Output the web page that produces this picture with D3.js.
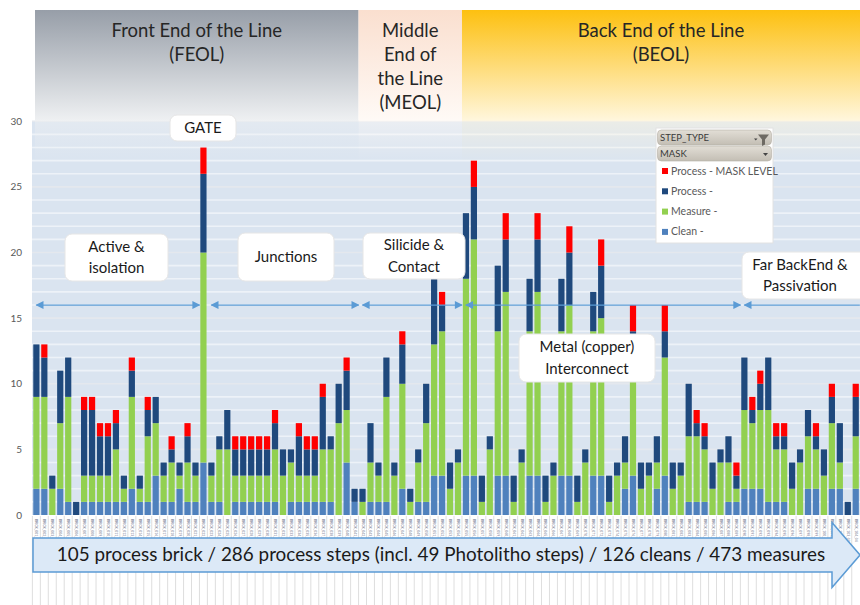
<!DOCTYPE html>
<html>
<head>
<meta charset="utf-8">
<script src="https://cdn.jsdelivr.net/npm/d3@7"></script>
<style>
  body { margin: 0; background: #fff; }
  svg { display: block; font-family: Lato, "Open Sans", sans-serif; }
</style>
</head>
<body>
<div id="chart"></div>
<script>
// steps per process brick (bottom to top of each stack)
const clean   = [2,2,0,2,1,0,1,1,1,1,1,1,2,1,1,3,1,1,2,1,1,4,1,1,0,1,1,1,1,1,1,0,1,1,1,1,1,1,0,4,1,0,1,1,1,0,2,0,1,1,3,3,0,0,3,3,0,0,3,3,0,0,3,3,0,0,3,3,0,0,3,3,0,0,2,3,0,0,2,3,0,0,1,1,1,0,0,1,1,2,2,2,1,1,1,0,0,2,2,0,2,2,0,2];
const measure = [7,7,2,5,8,0,2,2,2,2,4,1,7,1,5,4,2,3,1,3,2,16,2,4,5,2,2,2,2,2,4,3,3,2,2,2,4,4,7,4,0,1,3,2,8,3,8,1,3,6,10,11,2,4,15,18,1,5,11,14,1,4,11,14,1,3,11,13,1,4,11,12,1,3,2,10,2,3,2,9,2,3,5,5,4,2,4,3,1,6,5,6,7,4,4,2,4,4,3,3,5,2,0,4];
const process = [4,3,1,4,3,1,5,5,3,3,2,1,2,1,2,2,1,1,1,2,1,6,1,1,3,2,2,2,2,2,2,2,1,3,2,2,4,1,3,3,1,1,3,1,3,1,3,1,1,3,5,2,2,1,5,4,2,1,5,4,2,1,4,4,2,1,4,4,2,1,3,4,2,1,2,1,2,1,2,2,2,1,4,1,1,2,1,2,1,4,1,2,4,1,1,2,1,2,1,2,2,3,1,3];
const mask    = [0,1,0,0,0,0,1,1,1,1,1,0,1,0,1,0,0,1,0,1,0,2,0,0,0,1,1,1,1,1,1,0,0,1,1,1,1,0,0,1,0,0,0,0,0,0,1,0,0,0,0,1,0,0,0,2,0,0,0,2,0,0,0,2,0,0,0,2,0,0,0,2,0,0,0,2,0,0,0,2,0,0,0,1,1,0,0,0,1,0,1,1,0,1,1,0,0,0,1,0,1,0,0,1];
const bricks  = clean.map((d, i) => 'BRICK_' + String(i + 1).padStart(3, '0'));
const yTicks  = [0, 5, 10, 15, 20, 25, 30];

const seriesKeys   = ['clean', 'measure', 'process', 'mask'];
const seriesLabels = ['Clean -', 'Measure -', 'Process -', 'Process - MASK LEVEL'];
const seriesColors = ['#4f81bd', '#92d050', '#1f497d', '#ff0000'];

// brick groups (1-based, inclusive)
const lineParts = [
  {lines: ['Front End of the Line', '(FEOL)'], first: 1, last: 41, top: '#979ea8', low: '#eef0f2'},
  {lines: ['Middle', 'End of', 'the Line', '(MEOL)'], first: 42, last: 54, top: '#fadfcf', low: '#fffaf6'},
  {lines: ['Back End of the Line', '(BEOL)'], first: 55, last: 104, top: '#fdc010', low: '#fff6dc'}
];
const sections = [
  {first: 1, last: 21}, {first: 23, last: 41}, {first: 42, last: 54},
  {first: 55, last: 89}, {first: 90, last: 104}
];
const summary = '105 process brick / 286 process steps (incl. 49 Photolitho steps) / 126 cleans / 473 measures';

const width = 860, height = 605;
const plot = {left: 32, right: 860, top: 121, bottom: 515};

const table = bricks.map((b, i) => ({brick: b, clean: clean[i], measure: measure[i], process: process[i], mask: mask[i]}));
const stacked = d3.stack().keys(seriesKeys)(table);

const x = d3.scaleBand().domain(bricks)
  .range([32.4, 32.4 + bricks.length * 7.955])
  .paddingInner(0.22).paddingOuter(0.11);
const y = d3.scaleLinear().domain([0, 30]).range([plot.bottom, plot.top + 0.3]);
const color = d3.scaleOrdinal().domain(seriesKeys).range(seriesColors);

const svg = d3.select('#chart').append('svg')
  .attr('width', width).attr('height', height);
const defs = svg.append('defs');

// plot background + unit grid
svg.append('rect')
  .attr('x', plot.left).attr('y', plot.top)
  .attr('width', plot.right - plot.left).attr('height', plot.bottom - plot.top)
  .attr('fill', '#dae4f0');
svg.append('g')
  .selectAll('line')
  .data(d3.range(1, 31))
  .join('line')
    .attr('x1', plot.left).attr('x2', plot.right)
    .attr('y1', d => y(d)).attr('y2', d => y(d))
    .attr('stroke', d => d % 5 === 0 ? '#e4e8ee' : '#edf2f8')
    .attr('stroke-width', 1.6);

// header bands fading into the plot
const bandLeft = i => i === 1 ? 35 : x(bricks[i - 1]) - (x.step() - x.bandwidth()) / 2;
const bandRight = i => i === bricks.length ? width : bandLeft(i + 1);
lineParts.forEach((p, k) => {
  const g = defs.append('linearGradient').attr('id', 'hdr' + k)
    .attr('x1', 0).attr('x2', 0).attr('y1', 0).attr('y2', 1);
  g.append('stop').attr('offset', 0).attr('stop-color', p.top);
  g.append('stop').attr('offset', 0.72).attr('stop-color', p.low);
  g.append('stop').attr('offset', 0.73).attr('stop-color', p.low).attr('stop-opacity', 0.45);
  g.append('stop').attr('offset', 1).attr('stop-color', p.low).attr('stop-opacity', 0);
});
const header = svg.append('g');
header.selectAll('rect')
  .data(lineParts)
  .join('rect')
    .attr('x', d => bandLeft(d.first))
    .attr('width', d => bandRight(d.last) - bandLeft(d.first))
    .attr('y', 10).attr('height', 153)
    .attr('fill', (d, k) => `url(#hdr${k})`);
header.selectAll('text')
  .data(lineParts)
  .join('text')
    .attr('x', d => (bandLeft(d.first) + bandRight(d.last)) / 2)
    .attr('y', 37)
    .attr('text-anchor', 'middle')
    .attr('font-size', 18.5)
    .attr('fill', '#262626')
    .selectAll('tspan')
    .data(d => d.lines)
    .join('tspan')
      .attr('x', function() { return this.parentNode.getAttribute('x'); })
      .attr('dy', (d, i) => i ? 24 : 0)
      .text(d => d);

// y axis labels
svg.append('g')
  .selectAll('text')
  .data(yTicks)
  .join('text')
    .attr('x', 22).attr('y', d => y(d))
    .attr('dy', '0.35em')
    .attr('text-anchor', 'end')
    .attr('font-size', 10)
    .attr('fill', '#595959')
    .text(d => d);

// stacked bars
svg.append('g')
  .selectAll('g')
  .data(stacked)
  .join('g')
    .attr('fill', d => color(d.key))
  .selectAll('rect')
  .data(d => d.filter(s => s[1] > s[0]))
  .join('rect')
    .attr('x', d => x(d.data.brick))
    .attr('width', x.bandwidth())
    .attr('y', d => y(d[1]))
    .attr('height', d => y(d[0]) - y(d[1]));

// category label strip
const strip = svg.append('g');
strip.append('rect')
  .attr('x', plot.left).attr('y', plot.bottom + 1)
  .attr('width', plot.right - plot.left).attr('height', height - plot.bottom)
  .attr('fill', '#fff');
strip.selectAll('line')
  .data(bricks)
  .join('line')
    .attr('x1', d => x(d) - (x.step() - x.bandwidth()) / 2)
    .attr('x2', d => x(d) - (x.step() - x.bandwidth()) / 2)
    .attr('y1', plot.bottom + 1).attr('y2', height)
    .attr('stroke', '#d6d6d6').attr('stroke-width', 0.8);
strip.selectAll('text')
  .data(bricks)
  .join('text')
    .attr('transform', d => `translate(${x(d) + x.bandwidth() / 2 - 1},${plot.bottom + 4}) rotate(90)`)
    .attr('font-size', 3.4)
    .attr('fill', '#6a6f88')
    .text(d => d + '_' + d.slice(-2));

// double arrows over brick groups
defs.append('marker').attr('id', 'ah')
  .attr('viewBox', '0 0 10 10').attr('refX', 9).attr('refY', 5)
  .attr('markerWidth', 10).attr('markerHeight', 8).attr('markerUnits', 'userSpaceOnUse')
  .attr('orient', 'auto-start-reverse')
  .append('path').attr('d', 'M0,0L10,5L0,10Z').attr('fill', '#5b9bd5');
svg.append('g')
  .selectAll('line')
  .data(sections)
  .join('line')
    .attr('x1', d => x(bricks[d.first - 1]) + 3)
    .attr('x2', d => Math.min(x(bricks[d.last - 1]) + x.bandwidth() + 1, width + 20))
    .attr('y1', y(16)).attr('y2', y(16))
    .attr('stroke', '#5b9bd5').attr('stroke-width', 1.3)
    .attr('marker-start', 'url(#ah)')
    .attr('marker-end', (d, i) => i === sections.length - 1 ? null : 'url(#ah)');

// callouts
const callouts = [
  {lines: ['GATE'], x: 170, y: 115, w: 66, h: 26},
  {lines: ['Active &', 'isolation'], x: 65, y: 234, w: 103, h: 47},
  {lines: ['Junctions'], x: 238, y: 233, w: 96, h: 48},
  {lines: ['Silicide &', 'Contact'], x: 363, y: 233, w: 102, h: 46},
  {lines: ['Metal (copper)', 'Interconnect'], x: 519, y: 334, w: 136, h: 48},
  {lines: ['Far BackEnd &', 'Passivation'], x: 742, y: 252, w: 130, h: 47, cx: 800}
];
const co = svg.append('g').selectAll('g').data(callouts).join('g');
co.append('rect')
  .attr('x', d => d.x).attr('y', d => d.y)
  .attr('width', d => d.w).attr('height', d => d.h)
  .attr('rx', 7)
  .attr('fill', '#fff').attr('stroke', '#e6e6e6');
co.append('text')
  .attr('text-anchor', 'middle')
  .attr('font-size', 15)
  .attr('fill', '#1a1a1a')
  .selectAll('tspan')
  .data(d => d.lines.map((t, i) => ({t, i, d})))
  .join('tspan')
    .attr('x', e => e.d.cx || e.d.x + e.d.w / 2)
    .attr('y', e => e.d.y + e.d.h / 2 + 5 + (e.i - (e.d.lines.length - 1) / 2) * 21.5)
    .text(e => e.t);

// pivot legend
const lg = svg.append('g').attr('transform', 'translate(656,128)');
lg.append('rect').attr('width', 117).attr('height', 115)
  .attr('fill', '#fff').attr('stroke', '#e2e2e2');
const btn = defs.append('linearGradient').attr('id', 'btn')
  .attr('x1', 0).attr('x2', 0).attr('y1', 0).attr('y2', 1);
btn.append('stop').attr('offset', 0).attr('stop-color', '#e2ded6');
btn.append('stop').attr('offset', 1).attr('stop-color', '#c3beb4');
[['STEP_TYPE', 2], ['MASK', 18]].forEach(([t, yy]) => {
  lg.append('rect').attr('x', 1.5).attr('y', yy).attr('width', 114).attr('height', 15)
    .attr('rx', 4).attr('fill', 'url(#btn)').attr('stroke', '#b4afa5').attr('stroke-width', 0.6);
  lg.append('text').attr('x', 4).attr('y', yy + 11).attr('font-size', 9.5)
    .attr('fill', '#3a3a3a').text(t);
});
lg.append('path').attr('d', 'M102,6.5h11l-4,5v5l-3,1.5v-6.5Z').attr('fill', '#6e6a63');
lg.append('path').attr('d', 'M98,10.5h3.5l-1.75,2Z').attr('fill', '#444');
lg.append('path').attr('d', 'M107,25h5l-2.5,3Z').attr('fill', '#444');
const items = lg.selectAll('.item')
  .data(seriesKeys.slice().reverse())
  .join('g').attr('class', 'item')
    .attr('transform', (d, i) => `translate(6,${45 + i * 20.3})`);
items.append('rect').attr('y', -5).attr('width', 6).attr('height', 6).attr('fill', d => color(d));
items.append('text').attr('x', 9).attr('y', 1.5)
  .attr('font-size', 10.5).attr('fill', '#595959')
  .text(d => seriesLabels[seriesKeys.indexOf(d)]);

// summary banner arrow
const bn = svg.append('g');
bn.append('path')
  .attr('d', `M${plot.left + 1},538H832V522.5L860,555L832,587.5V572H${plot.left + 1}Z`)
  .attr('fill', '#dce9f7').attr('stroke', '#5b9bd5').attr('stroke-width', 1.5);
const st = bn.append('text')
  .attr('x', 441).attr('y', 561)
  .attr('text-anchor', 'middle')
  .attr('font-size', 18)
  .attr('fill', '#1a1a1a')
  .text(summary);
const len = st.node().getComputedTextLength();
st.attr('font-size', 18 * 769 / len);
</script>
</body>
</html>
